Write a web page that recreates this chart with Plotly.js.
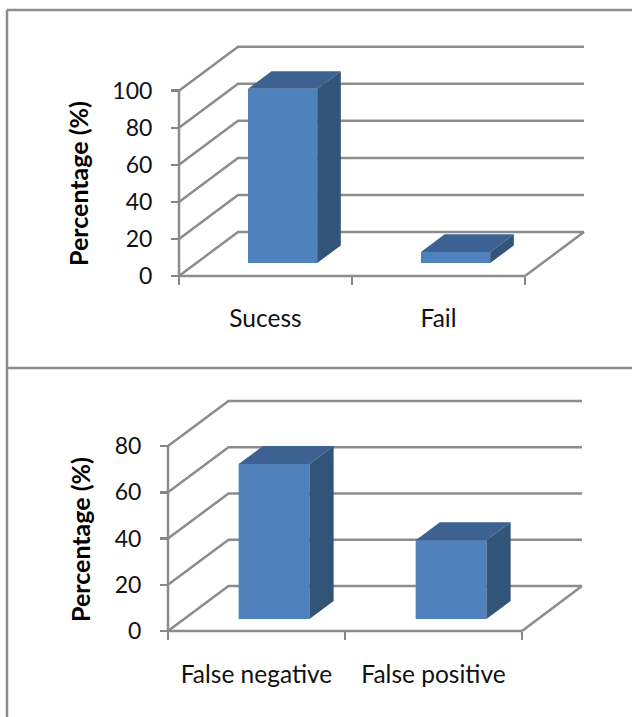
<!DOCTYPE html>
<html>
<head>
<meta charset="utf-8">
<script src="https://cdn.plot.ly/plotly-3.0.1.min.js"></script>
<style>html,body{margin:0;padding:0;background:#fff}</style>
</head>
<body>
<div id="chart" style="width:632px;height:717px"></div>
<script>
// Outcome shares, upper panel
const outcomeCategories = ["Sucess", "Fail"];
const outcomeValues = [94, 6];
const outcomeTicks = [0, 20, 40, 60, 80, 100];

// Error shares, lower panel
const errorCategories = ["False negative", "False positive"];
const errorValues = [67, 34];
const errorTicks = [0, 20, 40, 60, 80];

const yAxisTitle = "Percentage (%)";

const W = 632, H = 717;
const GREY = "#8c8c8c", TICK = "#868686";
const FRONT = "#4f81bd", TOP = "#3d6291", SIDE = "#325479";
const FONT = "Lato, 'Open Sans', sans-serif";

// Pixel frame of each oblique panel: front wall, floor depth and the bar's place in that depth
const panels = [
  {cats: outcomeCategories, vals: outcomeValues, ticks: outcomeTicks, left: 179, zero: 276, top: 90.7,
   catW: 173, depthX: 59, depthY: 44, right: 584, titleX: 78, titleY: 184, labelPad: 25, insetY: 0.295, s: ""},
  {cats: errorCategories, vals: errorValues, ticks: errorTicks, left: 168, zero: 631, top: 446,
   catW: 177, depthX: 60.5, depthY: 45, right: 582, titleX: 80, titleY: 540, labelPad: 26, insetY: 0.267, s: "2"}
];
const INSET_X = 0.29, BAR_DEPTH = 0.4, BAR_W = 0.4;

const traces = [], shapes = [], annotations = [], layout = {};

// Outer frame rules of the two stacked cells
[[7, 10, W, 10], [7, 10, 7, H], [7, 368, W, 368]].forEach(([x0, y0, x1, y1]) => shapes.push({
  type: "line", xref: "paper", yref: "paper", layer: "below",
  x0: x0 / W, x1: x1 / W, y0: 1 - y0 / H, y1: 1 - y1 / H, line: {color: GREY, width: 2.5}
}));

panels.forEach(p => {
  const xa = "x" + p.s, ya = "y" + p.s;
  const maxTick = p.ticks[p.ticks.length - 1];
  const pxY = (p.zero - p.top) / maxTick;       // pixels per percentage point
  const dX = p.depthX / p.catW, dY = p.depthY / pxY;   // floor depth in axis units
  const pad = 4;                                // room so edge lines are not clipped
  const xMax = (p.right - p.left) / p.catW;
  const yMax = (p.zero - p.top + p.depthY) / pxY;

  layout["xaxis" + p.s] = {
    domain: [(p.left - pad) / W, (p.right + pad) / W],
    range: [-pad / p.catW, xMax + pad / p.catW],
    anchor: "free", position: 1 - p.zero / H,
    showline: false, showgrid: false, zeroline: false, fixedrange: true,
    tickmode: "array", tickvals: p.cats.map((_, i) => i + 0.5), ticktext: p.cats,
    ticks: "", ticklabelstandoff: p.labelPad,
    tickfont: {family: FONT, size: 24.5, color: "#111"},
    minor: {tickmode: "array", tickvals: p.cats.map((_, i) => i).concat(p.cats.length),
            ticks: "outside", ticklen: 8, tickwidth: 2.5, tickcolor: TICK, showgrid: false}
  };
  layout["yaxis" + p.s] = {
    domain: [1 - (p.zero + pad) / H, 1 - (p.top - p.depthY - pad) / H],
    range: [-pad / pxY, yMax + pad / pxY],
    anchor: "free", position: p.left / W,
    showline: false, showgrid: false, zeroline: false, fixedrange: true,
    tickmode: "array", tickvals: p.ticks, ticktext: p.ticks.map(String),
    ticks: "outside", ticklen: 8, tickwidth: 2.5, tickcolor: TICK, ticklabelstandoff: 14,
    tickfont: {family: FONT, size: 23, color: "#111"}
  };

  const dataLine = (xs, ys) => shapes.push({
    type: "path", xref: xa, yref: ya, layer: "below",
    path: xs.map((x, i) => (i ? "L" : "M") + x + "," + ys[i]).join(" "),
    line: {color: GREY, width: 2.5}
  });

  // Wall gridlines: up the side wall, then along the back wall
  p.ticks.forEach(t => dataLine([0, dX, xMax], [t, t + dY, t + dY]));
  // Floor: right edge and front edge, plus the vertical axis at the front corner
  dataLine([p.cats.length, xMax], [0, dY]);
  dataLine([0, p.cats.length], [0, 0]);
  dataLine([0, 0], [0, maxTick]);

  // Front faces of the columns, standing a little way back on the floor
  const base = p.insetY * dY;
  traces.push({
    type: "bar", xaxis: xa, yaxis: ya, name: yAxisTitle,
    x: p.cats.map((_, i) => i + 0.5 + INSET_X * dX),
    y: p.vals, base: p.vals.map(() => base), width: BAR_W,
    marker: {color: FRONT, line: {width: 0}}, hoverinfo: "skip", showlegend: false
  });

  // Top and side faces derived from each value
  const bdx = BAR_DEPTH * dX, bdy = BAR_DEPTH * dY;
  p.vals.forEach((v, i) => {
    const x0 = i + 0.5 + INSET_X * dX - BAR_W / 2, x1 = x0 + BAR_W, t = base + v;
    const face = (xs, ys, color) => traces.push({
      type: "scatter", mode: "lines", xaxis: xa, yaxis: ya, x: xs, y: ys,
      fill: "toself", fillcolor: color, line: {width: 0, color: color},
      hoverinfo: "skip", showlegend: false
    });
    face([x0, x1, x1 + bdx, x0 + bdx, x0], [t, t, t + bdy, t + bdy, t], TOP);
    face([x1, x1 + bdx, x1 + bdx, x1, x1], [t, t + bdy, base + bdy, base, t], SIDE);
  });

  annotations.push({
    xref: "paper", yref: "paper", x: p.titleX / W, y: 1 - p.titleY / H,
    xanchor: "center", yanchor: "middle", showarrow: false, textangle: -90,
    text: "<b>" + yAxisTitle + "</b>", font: {family: FONT, size: 25, color: "#000"}
  });
});

Plotly.newPlot("chart", traces, Object.assign(layout, {
  width: W, height: H, margin: {l: 0, r: 0, t: 0, b: 0},
  paper_bgcolor: "#fff", plot_bgcolor: "rgba(0,0,0,0)",
  showlegend: false, barmode: "overlay", shapes, annotations
}), {displayModeBar: false, staticPlot: true});
</script>
</body>
</html>
